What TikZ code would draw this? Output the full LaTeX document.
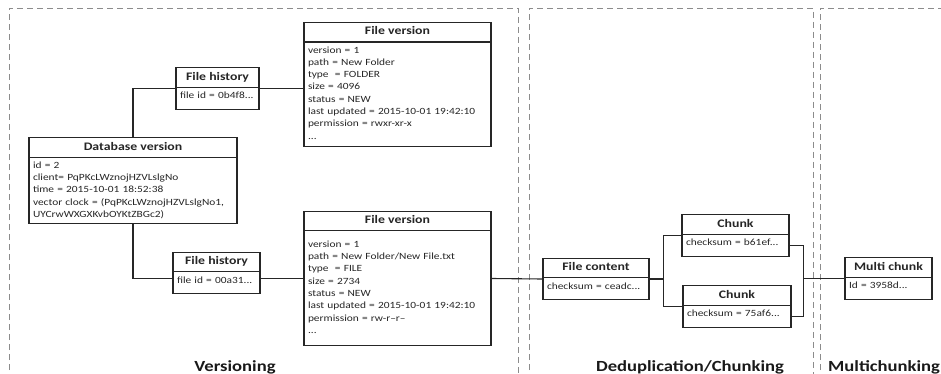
\documentclass[tikz,border=0pt]{standalone}
\usepackage{fontspec}
\setmainfont{Carlito}[FakeStretch=1.2]
\usetikzlibrary{shapes.multipart}

\newcommand{\boxtitle}[1]{\makebox[\hsize][c]{\fontsize{11.5}{13}\selectfont\bfseries\rule[-2.5pt]{0pt}{10.5pt}#1}}
\newcommand{\onestrut}{\rule[-6pt]{0pt}{13pt}}

\tikzset{
  cls/.style={draw=black!85, line width=1.1pt, fill=white, rectangle split, rectangle split parts=2,
    text width=#1, inner xsep=4pt, inner ysep=4pt, align=left, text=black!85,
    font=\fontsize{9.5}{12.3}\selectfont},
  link/.style={draw=black!85, line width=1.1pt},
  zone/.style={draw=black!45, line width=0.9pt, dash pattern=on 6pt off 4pt},
  zonelabel/.style={font=\fontsize{15.5}{18}\selectfont\bfseries, text=black!90, anchor=base}
}

\begin{document}
\begin{tikzpicture}[x=1pt, y=-1pt]
  \useasboundingbox (0,0) rectangle (941,374);

  % Draw the dashed zones
  \begin{scope}
    \clip (0,0) rectangle (941,374);
    \foreach \l/\r in {9/518, 529/813, 820/960} {
      \draw[zone] (\l,390) -- (\l,8) -- (\r,8) -- (\r,390);
    }
  \end{scope}

  % Versioning
  \node[cls=200pt] (dbver) at (133,180.5) {\boxtitle{Database version}
    \nodepart{two} id = 2\\ client= PqPKcLWznojHZVLslgNo\\ time = 2015-10-01 18:52:38\\
    vector clock = (PqPKcLWznojHZVLslgNo1,\\ UYCrwWXGXKvbOYKtZBGc2)};
  \node[cls=75pt] (fhist1) at (217.5,88.5) {\boxtitle{File history}
    \nodepart{two}\onestrut file id = 0b4f8...};
  \node[cls=79pt] (fhist2) at (216.5,273) {\boxtitle{File history}
    \nodepart{two}\onestrut file id = 00a31...};
  \node[cls=179pt] (fver1) at (397.5,84.5) {\boxtitle{File version}
    \nodepart{two} version = 1\\ path = New Folder\\ type \ = FOLDER\\ size = 4096\\ status = NEW\\
    last updated = 2015-10-01 19:42:10\\ permission = rwxr-xr-x\\ ...\rule[-3pt]{0pt}{3pt}};
  \node[cls=179pt] (fver2) at (397.5,278.5) {\boxtitle{File version}
    \nodepart{two}\rule{0pt}{12pt}version = 1\\ path = New Folder/New File.txt\\ type \ = FILE\\ size = 2734\\ status = NEW\\
    last updated = 2015-10-01 19:42:10\\ permission = rw-r--r--\\ ...\rule[-8pt]{0pt}{8pt}};

  % Deduplication/Chunking
  \node[cls=98pt] (fcont) at (596,279) {\boxtitle{File content}
    \nodepart{two}\onestrut checksum = ceadc...};
  \node[cls=99pt] (chunk1) at (735.5,235.5) {\boxtitle{Chunk}
    \nodepart{two}\onestrut checksum = b61ef...};
  \node[cls=100pt] (chunk2) at (737,306.5) {\boxtitle{Chunk}
    \nodepart{two}\onestrut checksum = 75af6...};

  % Multichunking
  \node[cls=79pt] (mchunk) at (888.5,278.5) {\boxtitle{Multi chunk}
    \nodepart{two}\onestrut Id = 3958d...};

  % Draw the connectors
  \draw[link] (dbver.north) |- (fhist1.west);
  \draw[link] (dbver.south) |- (fhist2.west |- fver2.west);
  \draw[link] (fhist1.east) -- (fhist1.east -| fver1.west);
  \draw[link] (fhist2.east |- fver2.west) -- (fver2.west);
  \draw[link] (fver2.east) -- (fcont.west);
  \draw[link] (fcont.east) -- ++(14,0) coordinate (split);
  \draw[link] (split) |- (chunk1.west);
  \draw[link] (split) |- (chunk2.west);
  \draw[link] (chunk1.two east) -- ++(14,0) coordinate (merge) |- (chunk2.two east);
  \draw[link] (merge |- mchunk.west) -- (mchunk.west);

  % Zone labels
  \node[zonelabel] (lversion) at (235,371) {Versioning};
  \node[zonelabel] (ldedup) at (690,371) {Deduplication/Chunking};
  \node[zonelabel, anchor=base west, inner sep=0pt] (lmulti) at (828,371) {Multichunking};
\end{tikzpicture}
\end{document}
